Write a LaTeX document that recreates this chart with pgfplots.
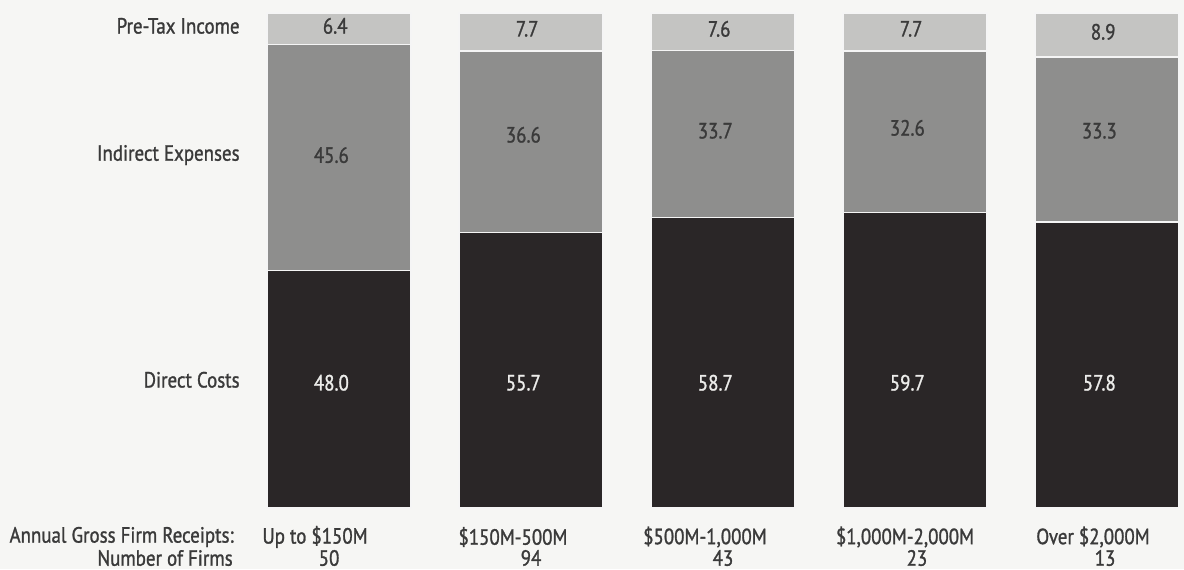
\documentclass[border=0pt]{standalone}
\usepackage{pgfplots}
\pgfplotsset{compat=1.18}
\usepackage{fontspec}
\setmainfont{PT Sans}[FakeStretch=0.86, FakeBold=1.2]
\definecolor{bg}{HTML}{F6F6F4}
\definecolor{lightseg}{HTML}{C4C4C2}
\definecolor{midseg}{HTML}{8E8E8D}
\definecolor{darkseg}{HTML}{2A2627}
\definecolor{txt}{HTML}{3A3A3A}
\definecolor{wtxt}{HTML}{ECECEA}

% pixel -> data: x = (px-339)/192, y = (508-py)/4.95
\begin{document}
\begin{tikzpicture}[font=\fontsize{11}{13}\selectfont,
  lab/.style={text=txt, inner sep=0pt}]
\fill[bg] (0,0) rectangle (592pt,284.5pt);
\begin{axis}[
  at={(0,0)}, anchor=south west,
  width=592pt, height=284.5pt, scale only axis,
  xmin=-1.766, xmax=4.401, ymin=-12.32, ymax=102.63,
  hide axis, clip=false,
  ybar stacked, bar width=0.75,
  every axis plot/.append style={draw=white!92!gray, line width=0.8pt},
]
% Direct Costs
\addplot[fill=darkseg] coordinates {(0,48.0) (1,55.7) (2,58.7) (3,59.7) (4,57.8)};
% Indirect Expenses
\addplot[fill=midseg] coordinates {(0,45.6) (1,36.6) (2,33.7) (3,32.6) (4,33.3)};
% Pre-Tax Income
\addplot[fill=lightseg] coordinates {(0,6.4) (1,7.7) (2,7.6) (3,7.7) (4,8.9)};

% anchors for the values inside the bars
\coordinate (d0) at (axis cs:-0.04,25.3);
\coordinate (d1) at (axis cs:0.96,25.3);
\coordinate (d2) at (axis cs:1.96,25.3);
\coordinate (d3) at (axis cs:2.96,25.3);
\coordinate (d4) at (axis cs:3.96,25.3);
\coordinate (n0) at (axis cs:-0.04,71.3);
\coordinate (n1) at (axis cs:0.96,75.4);
\coordinate (n2) at (axis cs:1.96,76.2);
\coordinate (n3) at (axis cs:2.96,76.8);
\coordinate (n4) at (axis cs:3.96,76.2);
\coordinate (p0) at (axis cs:-0.02,97.4);
\coordinate (p1) at (axis cs:0.98,96.8);
\coordinate (p2) at (axis cs:1.98,96.8);
\coordinate (p3) at (axis cs:2.98,96.8);
\coordinate (p4) at (axis cs:3.98,96.2);

% row labels
\node[anchor=east, lab] at (axis cs:-0.516,97.4) {Pre-Tax Income};
\node[anchor=east, lab] at (axis cs:-0.516,71.3) {Indirect Expenses};
\node[anchor=east, lab] at (axis cs:-0.516,25.9) {Direct Costs};
\node[anchor=east, lab] at (axis cs:-0.547,-5.85) {Annual Gross Firm Receipts:};
\node[anchor=east, lab] at (axis cs:-0.552,-10.1) {Number of Firms};

% category labels
\node[lab] at (axis cs:-0.125,-5.85) {Up to \$150M};
\node[lab] at (axis cs:0.906,-5.85) {\$150M-500M};
\node[lab] at (axis cs:1.906,-5.85) {\$500M-1,000M};
\node[lab] at (axis cs:2.948,-5.85) {\$1,000M-2,000M};
\node[lab] at (axis cs:3.927,-5.85) {Over \$2,000M};
\node[lab] at (axis cs:-0.052,-10.1) {50};
\node[lab] at (axis cs:1.0,-10.1) {94};
\node[lab] at (axis cs:2.0,-10.1) {43};
\node[lab] at (axis cs:3.01,-10.1) {23};
\node[lab] at (axis cs:3.99,-10.1) {13};
\end{axis}

\node[text=wtxt] at (d0) {48.0};
\node[text=wtxt] at (d1) {55.7};
\node[text=wtxt] at (d2) {58.7};
\node[text=wtxt] at (d3) {59.7};
\node[text=wtxt] at (d4) {57.8};
\node[text=txt] at (n0) {45.6};
\node[text=txt] at (n1) {36.6};
\node[text=txt] at (n2) {33.7};
\node[text=txt] at (n3) {32.6};
\node[text=txt] at (n4) {33.3};
\node[text=txt] at (p0) {6.4};
\node[text=txt] at (p1) {7.7};
\node[text=txt] at (p2) {7.6};
\node[text=txt] at (p3) {7.7};
\node[text=txt] at (p4) {8.9};
\end{tikzpicture}
\end{document}
